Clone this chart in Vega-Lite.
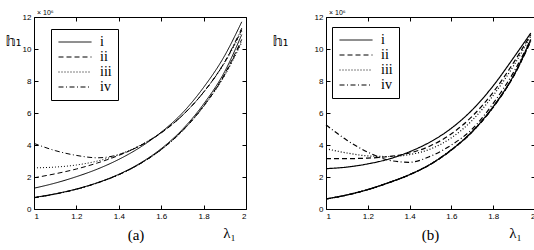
{
 "$schema": "https://vega.github.io/schema/vega-lite/v6.json",
 "background": "white",
 "padding": {"left": 5, "top": 9, "right": 2, "bottom": 0},
 "datasets": {
  "curves": [
   {"p":"a","c":"i","b":"u","x":1,"y":1.3},{"p":"a","c":"i","b":"u","x":1.1,"y":1.62},{"p":"a","c":"i","b":"u","x":1.2,"y":2.02},{"p":"a","c":"i","b":"u","x":1.3,"y":2.5},{"p":"a","c":"i","b":"u","x":1.4,"y":3.1},{"p":"a","c":"i","b":"u","x":1.5,"y":3.85},{"p":"a","c":"i","b":"u","x":1.6,"y":4.8},{"p":"a","c":"i","b":"u","x":1.7,"y":6.0},{"p":"a","c":"i","b":"u","x":1.8,"y":7.6},{"p":"a","c":"i","b":"u","x":1.9,"y":9.6},{"p":"a","c":"i","b":"u","x":1.98,"y":11.7},
   {"p":"a","c":"ii","b":"u","x":1,"y":1.95},{"p":"a","c":"ii","b":"u","x":1.1,"y":2.2},{"p":"a","c":"ii","b":"u","x":1.2,"y":2.5},{"p":"a","c":"ii","b":"u","x":1.3,"y":2.88},{"p":"a","c":"ii","b":"u","x":1.4,"y":3.35},{"p":"a","c":"ii","b":"u","x":1.5,"y":3.95},{"p":"a","c":"ii","b":"u","x":1.6,"y":4.75},{"p":"a","c":"ii","b":"u","x":1.7,"y":5.85},{"p":"a","c":"ii","b":"u","x":1.8,"y":7.3},{"p":"a","c":"ii","b":"u","x":1.9,"y":9.2},{"p":"a","c":"ii","b":"u","x":1.98,"y":11.2},
   {"p":"a","c":"iii","b":"u","x":1,"y":2.57},{"p":"a","c":"iii","b":"u","x":1.1,"y":2.62},{"p":"a","c":"iii","b":"u","x":1.2,"y":2.75},{"p":"a","c":"iii","b":"u","x":1.3,"y":3.0},{"p":"a","c":"iii","b":"u","x":1.4,"y":3.4},{"p":"a","c":"iii","b":"u","x":1.5,"y":3.98},{"p":"a","c":"iii","b":"u","x":1.6,"y":4.78},{"p":"a","c":"iii","b":"u","x":1.7,"y":5.85},{"p":"a","c":"iii","b":"u","x":1.8,"y":7.3},{"p":"a","c":"iii","b":"u","x":1.9,"y":9.15},{"p":"a","c":"iii","b":"u","x":1.98,"y":11.1},
   {"p":"a","c":"iv","b":"u","x":1,"y":4.1},{"p":"a","c":"iv","b":"u","x":1.1,"y":3.65},{"p":"a","c":"iv","b":"u","x":1.2,"y":3.35},{"p":"a","c":"iv","b":"u","x":1.3,"y":3.2},{"p":"a","c":"iv","b":"u","x":1.4,"y":3.4},{"p":"a","c":"iv","b":"u","x":1.5,"y":3.95},{"p":"a","c":"iv","b":"u","x":1.6,"y":4.78},{"p":"a","c":"iv","b":"u","x":1.7,"y":5.85},{"p":"a","c":"iv","b":"u","x":1.8,"y":7.3},{"p":"a","c":"iv","b":"u","x":1.9,"y":9.2},{"p":"a","c":"iv","b":"u","x":1.98,"y":11.3},
   {"p":"a","c":"i","b":"l","x":1,"y":0.72},{"p":"a","c":"i","b":"l","x":1.1,"y":0.95},{"p":"a","c":"i","b":"l","x":1.2,"y":1.25},{"p":"a","c":"i","b":"l","x":1.3,"y":1.65},{"p":"a","c":"i","b":"l","x":1.4,"y":2.17},{"p":"a","c":"i","b":"l","x":1.5,"y":2.86},{"p":"a","c":"i","b":"l","x":1.6,"y":3.77},{"p":"a","c":"i","b":"l","x":1.7,"y":4.97},{"p":"a","c":"i","b":"l","x":1.8,"y":6.56},{"p":"a","c":"i","b":"l","x":1.9,"y":8.6},{"p":"a","c":"i","b":"l","x":1.98,"y":10.9},
   {"p":"a","c":"ii","b":"l","x":1,"y":0.7},{"p":"a","c":"ii","b":"l","x":1.1,"y":0.94},{"p":"a","c":"ii","b":"l","x":1.2,"y":1.24},{"p":"a","c":"ii","b":"l","x":1.3,"y":1.64},{"p":"a","c":"ii","b":"l","x":1.4,"y":2.15},{"p":"a","c":"ii","b":"l","x":1.5,"y":2.83},{"p":"a","c":"ii","b":"l","x":1.6,"y":3.72},{"p":"a","c":"ii","b":"l","x":1.7,"y":4.9},{"p":"a","c":"ii","b":"l","x":1.8,"y":6.45},{"p":"a","c":"ii","b":"l","x":1.9,"y":8.45},{"p":"a","c":"ii","b":"l","x":1.98,"y":10.6},
   {"p":"a","c":"iii","b":"l","x":1,"y":0.71},{"p":"a","c":"iii","b":"l","x":1.1,"y":0.94},{"p":"a","c":"iii","b":"l","x":1.2,"y":1.24},{"p":"a","c":"iii","b":"l","x":1.3,"y":1.63},{"p":"a","c":"iii","b":"l","x":1.4,"y":2.14},{"p":"a","c":"iii","b":"l","x":1.5,"y":2.82},{"p":"a","c":"iii","b":"l","x":1.6,"y":3.7},{"p":"a","c":"iii","b":"l","x":1.7,"y":4.87},{"p":"a","c":"iii","b":"l","x":1.8,"y":6.4},{"p":"a","c":"iii","b":"l","x":1.9,"y":8.35},{"p":"a","c":"iii","b":"l","x":1.98,"y":10.4},
   {"p":"a","c":"iv","b":"l","x":1,"y":0.7},{"p":"a","c":"iv","b":"l","x":1.1,"y":0.93},{"p":"a","c":"iv","b":"l","x":1.2,"y":1.23},{"p":"a","c":"iv","b":"l","x":1.3,"y":1.63},{"p":"a","c":"iv","b":"l","x":1.4,"y":2.14},{"p":"a","c":"iv","b":"l","x":1.5,"y":2.82},{"p":"a","c":"iv","b":"l","x":1.6,"y":3.71},{"p":"a","c":"iv","b":"l","x":1.7,"y":4.88},{"p":"a","c":"iv","b":"l","x":1.8,"y":6.42},{"p":"a","c":"iv","b":"l","x":1.9,"y":8.4},{"p":"a","c":"iv","b":"l","x":1.98,"y":10.5},
   {"p":"b","c":"i","b":"u","x":1,"y":2.52},{"p":"b","c":"i","b":"u","x":1.1,"y":2.62},{"p":"b","c":"i","b":"u","x":1.2,"y":2.82},{"p":"b","c":"i","b":"u","x":1.3,"y":3.12},{"p":"b","c":"i","b":"u","x":1.4,"y":3.58},{"p":"b","c":"i","b":"u","x":1.5,"y":4.2},{"p":"b","c":"i","b":"u","x":1.6,"y":5.05},{"p":"b","c":"i","b":"u","x":1.7,"y":6.2},{"p":"b","c":"i","b":"u","x":1.8,"y":7.7},{"p":"b","c":"i","b":"u","x":1.9,"y":9.5},{"p":"b","c":"i","b":"u","x":1.98,"y":11.0},
   {"p":"b","c":"ii","b":"u","x":1,"y":3.15},{"p":"b","c":"ii","b":"u","x":1.1,"y":3.15},{"p":"b","c":"ii","b":"u","x":1.2,"y":3.18},{"p":"b","c":"ii","b":"u","x":1.3,"y":3.28},{"p":"b","c":"ii","b":"u","x":1.4,"y":3.5},{"p":"b","c":"ii","b":"u","x":1.5,"y":3.95},{"p":"b","c":"ii","b":"u","x":1.6,"y":4.7},{"p":"b","c":"ii","b":"u","x":1.7,"y":5.8},{"p":"b","c":"ii","b":"u","x":1.8,"y":7.3},{"p":"b","c":"ii","b":"u","x":1.9,"y":9.2},{"p":"b","c":"ii","b":"u","x":1.98,"y":10.9},
   {"p":"b","c":"iii","b":"u","x":1,"y":3.77},{"p":"b","c":"iii","b":"u","x":1.1,"y":3.5},{"p":"b","c":"iii","b":"u","x":1.2,"y":3.32},{"p":"b","c":"iii","b":"u","x":1.3,"y":3.28},{"p":"b","c":"iii","b":"u","x":1.4,"y":3.4},{"p":"b","c":"iii","b":"u","x":1.5,"y":3.75},{"p":"b","c":"iii","b":"u","x":1.6,"y":4.45},{"p":"b","c":"iii","b":"u","x":1.7,"y":5.55},{"p":"b","c":"iii","b":"u","x":1.8,"y":7.1},{"p":"b","c":"iii","b":"u","x":1.9,"y":9.0},{"p":"b","c":"iii","b":"u","x":1.98,"y":10.8},
   {"p":"b","c":"iv","b":"u","x":1,"y":5.26},{"p":"b","c":"iv","b":"u","x":1.1,"y":4.3},{"p":"b","c":"iv","b":"u","x":1.2,"y":3.55},{"p":"b","c":"iv","b":"u","x":1.3,"y":3.05},{"p":"b","c":"iv","b":"u","x":1.4,"y":2.92},{"p":"b","c":"iv","b":"u","x":1.5,"y":3.3},{"p":"b","c":"iv","b":"u","x":1.6,"y":4.0},{"p":"b","c":"iv","b":"u","x":1.7,"y":5.0},{"p":"b","c":"iv","b":"u","x":1.8,"y":6.6},{"p":"b","c":"iv","b":"u","x":1.9,"y":8.6},{"p":"b","c":"iv","b":"u","x":1.98,"y":10.6},
   {"p":"b","c":"i","b":"l","x":1,"y":0.63},{"p":"b","c":"i","b":"l","x":1.1,"y":0.88},{"p":"b","c":"i","b":"l","x":1.2,"y":1.22},{"p":"b","c":"i","b":"l","x":1.3,"y":1.65},{"p":"b","c":"i","b":"l","x":1.4,"y":2.15},{"p":"b","c":"i","b":"l","x":1.5,"y":2.8},{"p":"b","c":"i","b":"l","x":1.6,"y":3.7},{"p":"b","c":"i","b":"l","x":1.7,"y":4.85},{"p":"b","c":"i","b":"l","x":1.8,"y":6.4},{"p":"b","c":"i","b":"l","x":1.9,"y":8.4},{"p":"b","c":"i","b":"l","x":1.98,"y":10.6},
   {"p":"b","c":"ii","b":"l","x":1,"y":0.62},{"p":"b","c":"ii","b":"l","x":1.1,"y":0.87},{"p":"b","c":"ii","b":"l","x":1.2,"y":1.21},{"p":"b","c":"ii","b":"l","x":1.3,"y":1.64},{"p":"b","c":"ii","b":"l","x":1.4,"y":2.14},{"p":"b","c":"ii","b":"l","x":1.5,"y":2.79},{"p":"b","c":"ii","b":"l","x":1.6,"y":3.68},{"p":"b","c":"ii","b":"l","x":1.7,"y":4.82},{"p":"b","c":"ii","b":"l","x":1.8,"y":6.35},{"p":"b","c":"ii","b":"l","x":1.9,"y":8.35},{"p":"b","c":"ii","b":"l","x":1.98,"y":10.5},
   {"p":"b","c":"iii","b":"l","x":1,"y":0.63},{"p":"b","c":"iii","b":"l","x":1.1,"y":0.88},{"p":"b","c":"iii","b":"l","x":1.2,"y":1.21},{"p":"b","c":"iii","b":"l","x":1.3,"y":1.64},{"p":"b","c":"iii","b":"l","x":1.4,"y":2.14},{"p":"b","c":"iii","b":"l","x":1.5,"y":2.8},{"p":"b","c":"iii","b":"l","x":1.6,"y":3.69},{"p":"b","c":"iii","b":"l","x":1.7,"y":4.83},{"p":"b","c":"iii","b":"l","x":1.8,"y":6.37},{"p":"b","c":"iii","b":"l","x":1.9,"y":8.37},{"p":"b","c":"iii","b":"l","x":1.98,"y":10.5},
   {"p":"b","c":"iv","b":"l","x":1,"y":0.62},{"p":"b","c":"iv","b":"l","x":1.1,"y":0.87},{"p":"b","c":"iv","b":"l","x":1.2,"y":1.21},{"p":"b","c":"iv","b":"l","x":1.3,"y":1.64},{"p":"b","c":"iv","b":"l","x":1.4,"y":2.15},{"p":"b","c":"iv","b":"l","x":1.5,"y":2.8},{"p":"b","c":"iv","b":"l","x":1.6,"y":3.7},{"p":"b","c":"iv","b":"l","x":1.7,"y":4.84},{"p":"b","c":"iv","b":"l","x":1.8,"y":6.38},{"p":"b","c":"iv","b":"l","x":1.9,"y":8.38},{"p":"b","c":"iv","b":"l","x":1.98,"y":10.55}
  ],
  "labels": [{"p":"a","t":"× 10⁶"},{"p":"b","t":"× 10⁶"}]
 },
 "spacing": 25,
 "hconcat": [
  {
   "width": 212, "height": 192,
   "title": {"text": "(a)", "orient": "bottom", "anchor": "middle", "font": "Liberation Serif", "fontSize": 15, "fontWeight": "normal", "offset": -12, "dx": -4},
   "layer": [
    {"data": {"name": "curves"}, "transform": [{"filter": "datum.p === 'a'"}],
     "mark": {"type": "line", "interpolate": "monotone", "color": "black", "strokeWidth": 1},
     "encoding": {
      "x": {"field": "x", "type": "quantitative", "scale": {"domain": [1, 2], "nice": false, "zero": false},
            "axis": {"orient": "bottom", "values": [1, 1.2, 1.4, 1.6, 1.8, 2], "format": "~g", "title": "λ₁", "titleX": 195, "titleY": 23, "titleAlign": "center", "titleBaseline": "middle"}},
      "y": {"field": "y", "type": "quantitative", "scale": {"domain": [0, 12], "nice": false, "zero": false},
            "axis": {"orient": "left", "values": [0, 2, 4, 6, 8, 10, 12], "format": "d", "title": "𝕙₁", "titleAngle": 0, "titleX": -21, "titleY": 24, "titleAlign": "center", "titleBaseline": "middle", "titleFont": "DejaVu Sans", "titleFontSize": 14}},
      "strokeDash": {"field": "c", "type": "nominal",
            "scale": {"domain": ["i", "ii", "iii", "iv"], "range": [[1, 0], [5, 3], [1, 2], [5, 2.5, 1, 2.5]]},
            "legend": {"title": null, "orient": "none", "legendX": 17, "legendY": 12}},
      "detail": {"field": "b", "type": "nominal"}
     }},
    {"data": {"name": "curves"}, "transform": [{"filter": "datum.p === 'a'"}],
     "mark": {"type": "point", "opacity": 0},
     "encoding": {
      "x": {"field": "x", "type": "quantitative", "axis": {"orient": "top", "labels": false, "title": null, "values": [1, 1.2, 1.4, 1.6, 1.8, 2]}},
      "y": {"field": "y", "type": "quantitative", "axis": {"orient": "right", "labels": false, "title": null, "values": [0, 2, 4, 6, 8, 10, 12]}}
     }},
    {"data": {"name": "labels"}, "transform": [{"filter": "datum.p === 'a'"}],
     "mark": {"type": "text", "align": "left", "baseline": "bottom", "dx": 3, "dy": -1, "fontSize": 7, "font": "Liberation Sans", "color": "black"},
     "encoding": {"x": {"datum": 1, "type": "quantitative", "axis": null}, "y": {"datum": 12, "type": "quantitative", "axis": null}, "text": {"field": "t"}}}
   ],
   "resolve": {"axis": {"x": "independent", "y": "independent"}}
  },
  {
   "width": 209, "height": 192,
   "title": {"text": "(b)", "orient": "bottom", "anchor": "middle", "font": "Liberation Serif", "fontSize": 15, "fontWeight": "normal", "offset": -12, "dx": 0},
   "layer": [
    {"data": {"name": "curves"}, "transform": [{"filter": "datum.p === 'b'"}],
     "mark": {"type": "line", "interpolate": "monotone", "color": "black", "strokeWidth": 1.2},
     "encoding": {
      "x": {"field": "x", "type": "quantitative", "scale": {"domain": [1, 2], "nice": false, "zero": false},
            "axis": {"orient": "bottom", "values": [1, 1.2, 1.4, 1.6, 1.8, 2], "format": "~g", "title": "λ₁", "titleX": 189, "titleY": 23, "titleAlign": "center", "titleBaseline": "middle"}},
      "y": {"field": "y", "type": "quantitative", "scale": {"domain": [0, 12], "nice": false, "zero": false},
            "axis": {"orient": "left", "values": [0, 2, 4, 6, 8, 10, 12], "format": "d", "title": "𝕙₁", "titleAngle": 0, "titleX": -46, "titleY": 24, "titleAlign": "center", "titleBaseline": "middle", "titleFont": "DejaVu Sans", "titleFontSize": 14}},
      "strokeDash": {"field": "c", "type": "nominal",
            "scale": {"domain": ["i", "ii", "iii", "iv"], "range": [[1, 0], [5, 3], [1, 2], [5, 2.5, 1, 2.5]]},
            "legend": {"title": null, "orient": "none", "legendX": 6, "legendY": 10}},
      "detail": {"field": "b", "type": "nominal"}
     }},
    {"data": {"name": "curves"}, "transform": [{"filter": "datum.p === 'b'"}],
     "mark": {"type": "point", "opacity": 0},
     "encoding": {
      "x": {"field": "x", "type": "quantitative", "axis": {"orient": "top", "labels": false, "title": null, "values": [1, 1.2, 1.4, 1.6, 1.8, 2]}},
      "y": {"field": "y", "type": "quantitative", "axis": {"orient": "right", "labels": false, "title": null, "values": [0, 2, 4, 6, 8, 10, 12]}}
     }},
    {"data": {"name": "labels"}, "transform": [{"filter": "datum.p === 'b'"}],
     "mark": {"type": "text", "align": "left", "baseline": "bottom", "dx": 3, "dy": -1, "fontSize": 7, "font": "Liberation Sans", "color": "black"},
     "encoding": {"x": {"datum": 1, "type": "quantitative", "axis": null}, "y": {"datum": 12, "type": "quantitative", "axis": null}, "text": {"field": "t"}}}
   ],
   "resolve": {"axis": {"x": "independent", "y": "independent"}}
  }
 ],
 "resolve": {"scale": {"strokeDash": "independent"}, "legend": {"strokeDash": "independent"}},
 "config": {
  "view": {"stroke": null},
  "axis": {"grid": false, "domainColor": "black", "domainWidth": 1, "tickColor": "black", "tickSize": -4, "tickWidth": 1, "labelPadding": 7, "labelFont": "Liberation Sans", "labelFontSize": 8, "labelColor": "black", "titleFont": "Liberation Serif", "titleFontSize": 15, "titleFontWeight": "normal", "titleColor": "black"},
  "legend": {"strokeColor": "black", "fillColor": "white", "padding": 6, "cornerRadius": 0, "symbolType": "M-1,0H5", "symbolSize": 121, "symbolStrokeWidth": 1, "symbolStrokeColor": "black", "symbolFillColor": "transparent", "labelFont": "Liberation Serif", "labelFontSize": 14, "labelColor": "black", "labelOffset": 29, "rowPadding": 1}
 }
}
